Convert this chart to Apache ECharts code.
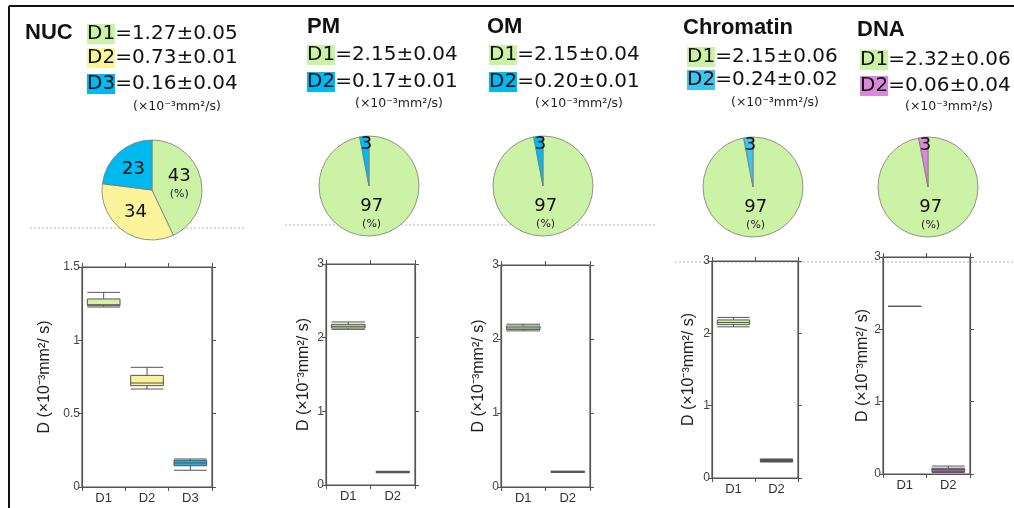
<!DOCTYPE html>
<html><head><meta charset="utf-8">
<script src="https://cdn.jsdelivr.net/npm/echarts@6/dist/echarts.min.js"></script>
<style>html,body{margin:0;padding:0;background:#fff}#c{width:1014px;height:508px}</style>
</head><body><div id="c"></div>
<script>
// ---------------- DATA ----------------
const panelNames = ['NUC', 'PM', 'OM', 'Chromatin', 'DNA'];
const nucCategories = ['D1', 'D2', 'D3'];
const twoCategories = ['D1', 'D2'];

// mean ± SD (×10^-3 mm²/s)
const nucMean = [1.27, 0.73, 0.16];   const nucSD = [0.05, 0.01, 0.04];
const pmMean = [2.15, 0.17];          const pmSD = [0.04, 0.01];
const omMean = [2.15, 0.20];          const omSD = [0.04, 0.01];
const chrMean = [2.15, 0.24];         const chrSD = [0.06, 0.02];
const dnaMean = [2.32, 0.06];         const dnaSD = [0.06, 0.04];

// fractions (%)
const nucFraction = [43, 34, 23];
const pmFraction = [97, 3];
const omFraction = [97, 3];
const chrFraction = [97, 3];
const dnaFraction = [97, 3];

// box plots: [min, Q1, median, Q3, max]
const nucBox = [[1.227, 1.236, 1.243, 1.282, 1.327], [0.668, 0.691, 0.709, 0.761, 0.816], [0.114, 0.145, 0.164, 0.182, 0.191]];
const pmBox = [[2.113, 2.131, 2.154, 2.181, 2.213], [0.166, 0.172, 0.176, 0.181, 0.186]];
const omBox = [[2.110, 2.130, 2.150, 2.175, 2.200], [0.196, 0.200, 0.205, 0.210, 0.214]];
const chrBox = [[2.090, 2.120, 2.150, 2.185, 2.220], [0.222, 0.226, 0.240, 0.258, 0.262]];
const dnaBox = [[2.317, 2.317, 2.317, 2.317, 2.317], [0.020, 0.033, 0.060, 0.080, 0.110]];

const yTicksNuc = [0, 0.5, 1, 1.5];
const yTicksOther = [0, 1, 2, 3];
const unitText = '(×10⁻³mm²/s)';
const yAxisTitle = 'D (×10⁻³mm²/ s)';

// ---------------- STYLE / LAYOUT ----------------
const C = { green: '#ccf2a6', yellow: '#fbf49a', blue: '#00b9ef', blueL: '#3fc4ee', mag: '#d88ad8',
            boxGreen: '#d3f2a6', boxYellow: '#f8f29a', boxBlue: '#18b4e6', boxDark: '#4a2544', boxMag: '#b462bc' };

const panels = [
  { name: panelNames[0], cats: nucCategories, mean: nucMean, sd: nucSD, frac: nucFraction, box: nucBox, ticks: yTicksNuc,
    hl: [C.green, C.yellow, C.blue], pieCol: [C.green, C.yellow, C.blue], boxCol: [C.boxGreen, C.boxYellow, C.boxBlue],
    grid: { left: 82, top: 267, width: 130, height: 220 }, nameGap: 29, pie: [152, 190],
    head: [25, 33], lx: 87, ly: [34, 58, 84], unit: [133, 107] },
  { name: panelNames[1], cats: twoCategories, mean: pmMean, sd: pmSD, frac: pmFraction, box: pmBox, ticks: yTicksOther,
    hl: [C.green, C.blue], pieCol: [C.green, C.blue], boxCol: [C.boxGreen, '#555'],
    grid: { left: 326, top: 264, width: 89, height: 221 }, nameGap: 14, pie: [369, 186],
    head: [307, 27], lx: 307, ly: [55, 82], unit: [355, 104] },
  { name: panelNames[2], cats: twoCategories, mean: omMean, sd: omSD, frac: omFraction, box: omBox, ticks: yTicksOther,
    hl: [C.green, C.blue], pieCol: [C.green, C.blue], boxCol: [C.boxGreen, '#555'],
    grid: { left: 501, top: 265, width: 89, height: 222 }, nameGap: 14, pie: [543, 186],
    head: [487, 27], lx: 489, ly: [55, 82], unit: [535, 104] },
  { name: panelNames[3], cats: twoCategories, mean: chrMean, sd: chrSD, frac: chrFraction, box: chrBox, ticks: yTicksOther,
    hl: [C.green, C.blueL], pieCol: [C.green, C.blueL], boxCol: [C.boxGreen, C.boxDark],
    grid: { left: 712, top: 261, width: 86, height: 217 }, nameGap: 15, pie: [753, 187],
    head: [683, 28], lx: 687, ly: [57, 80], unit: [731, 103] },
  { name: panelNames[4], cats: twoCategories, mean: dnaMean, sd: dnaSD, frac: dnaFraction, box: dnaBox, ticks: yTicksOther,
    hl: [C.green, C.mag], pieCol: [C.green, C.mag], boxCol: [C.boxGreen, C.boxMag],
    grid: { left: 883, top: 257, width: 87, height: 217 }, nameGap: 11, pie: [928, 187],
    head: [857, 30], lx: 860, ly: [60, 86], unit: [905, 107] }
];

const AX = '#555';
const grids = [], xAxes = [], yAxes = [], series = [], graphics = [];

panels.forEach((p, i) => {
  grids.push(Object.assign({ show: true, borderColor: AX, borderWidth: 1.2, backgroundColor: 'transparent' }, p.grid));
  const tmax = p.ticks[p.ticks.length - 1], tint = p.ticks[1] - p.ticks[0];
  const line = { show: true, onZero: false, lineStyle: { color: AX, width: 1.2 } };
  xAxes.push({ gridIndex: i, type: 'category', data: p.cats, position: 'bottom',
    axisLine: line, axisTick: { show: true, length: 4, lineStyle: { color: AX } },
    axisLabel: { fontSize: 13, color: '#333', margin: 5, fontFamily: 'Liberation Sans' }, splitLine: { show: false } });
  xAxes.push({ gridIndex: i, type: 'category', data: p.cats, position: 'top',
    axisLine: line, axisTick: { show: true, length: 4, lineStyle: { color: AX } },
    axisLabel: { show: false }, splitLine: { show: false } });
  yAxes.push({ gridIndex: i, type: 'value', min: p.ticks[0], max: tmax, interval: tint, position: 'left',
    axisLine: line, axisTick: { show: true, length: 4, lineStyle: { color: AX } },
    axisLabel: { fontSize: 12, color: '#444', margin: 2, fontFamily: 'Liberation Sans' }, splitLine: { show: false },
    name: yAxisTitle, nameLocation: 'middle', nameRotate: 90, nameGap: p.nameGap,
    nameTextStyle: { fontSize: 16, color: '#222', fontFamily: 'Liberation Sans' } });
  yAxes.push({ gridIndex: i, type: 'value', min: p.ticks[0], max: tmax, interval: tint, position: 'right',
    axisLine: line, axisTick: { show: true, length: 4, lineStyle: { color: AX } },
    axisLabel: { show: false }, splitLine: { show: false } });

  series.push({ type: 'boxplot', xAxisIndex: 2 * i, yAxisIndex: 2 * i, boxWidth: [8, '84%'], silent: true,
    itemStyle: { borderColor: AX, borderWidth: 1 },
    data: p.box.map((b, k) => ({ value: b, itemStyle: { color: p.boxCol[k], borderColor: AX } })) });

  // pie
  series.push({ type: 'pie', center: p.pie, radius: 50, startAngle: 90, clockwise: true, silent: true,
    avoidLabelOverlap: false, labelLine: { show: false },
    itemStyle: { borderColor: '#7a7a7a', borderWidth: 0.8 },
    data: p.frac.map((v, k) => {
      const big = k === 0;
      const small = v < 10;
      return { value: v, name: p.cats[k], itemStyle: { color: p.pieCol[k] },
        label: { show: true, position: 'inside',
          formatter: big ? '{n|{c}}\n{p|(%)}' : '{n|{c}}',
          padding: small ? [0, 0, 28, 0] : 0,
          rich: { n: { fontSize: 18, fontFamily: 'DejaVu Sans', color: '#111', lineHeight: 20 },
                  p: { fontSize: 11, fontFamily: 'DejaVu Sans', color: '#222', lineHeight: 16 } } } };
    }) });

  // header texts
  graphics.push({ type: 'text', x: p.head[0], y: p.head[1],
    style: { text: p.name, fontSize: 22, fontWeight: 'bold', fontFamily: 'Liberation Sans', fill: '#111', verticalAlign: 'middle' } });
  p.cats.forEach((c, k) => {
    graphics.push({ type: 'text', x: p.lx, y: p.ly[k],
      style: { text: '{h|' + c + '}=' + p.mean[k].toFixed(2) + '±' + p.sd[k].toFixed(2),
        fontSize: 20, fontFamily: 'DejaVu Sans', fill: '#111', verticalAlign: 'middle',
        rich: { h: { backgroundColor: p.hl[k], fontSize: 20, fontFamily: 'DejaVu Sans', lineHeight: 22 } } } });
  });
  graphics.push({ type: 'text', x: p.unit[0], y: p.unit[1],
    style: { text: unitText, fontSize: 12.5, fontFamily: 'DejaVu Sans', fill: '#222', verticalAlign: 'middle' } });
});

// frame & dotted separators
graphics.push({ type: 'line', shape: { x1: 9, y1: 6, x2: 1014, y2: 6 }, style: { stroke: '#111', lineWidth: 2 } });
graphics.push({ type: 'line', shape: { x1: 9, y1: 6, x2: 9, y2: 508 }, style: { stroke: '#111', lineWidth: 2 } });
const dash = { stroke: '#b8b8b8', lineWidth: 1, lineDash: [2, 2] };
graphics.push({ type: 'line', shape: { x1: 30, y1: 228, x2: 245, y2: 228 }, style: dash });
graphics.push({ type: 'line', shape: { x1: 285, y1: 225, x2: 655, y2: 225 }, style: dash });
graphics.push({ type: 'line', shape: { x1: 675, y1: 262, x2: 1014, y2: 262 }, style: dash });

const chart = echarts.init(document.getElementById('c'), null, { renderer: 'canvas' });
chart.setOption({ backgroundColor: '#fff', animation: false, grid: grids, xAxis: xAxes, yAxis: yAxes, series: series, graphic: graphics });
</script></body></html>
